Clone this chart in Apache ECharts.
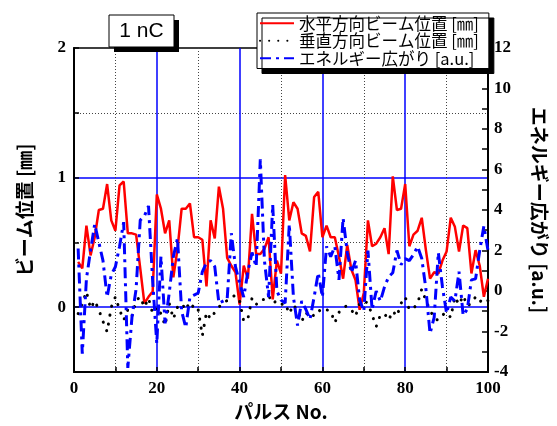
<!DOCTYPE html>
<html>
<head>
<meta charset="utf-8">
<script src="https://cdn.jsdelivr.net/npm/echarts@6/dist/echarts.min.js"></script>
<style>
html, body { margin: 0; padding: 0; background: #fff; }
#main { width: 557px; height: 426px; }
</style>
</head>
<body>
<div id="main"></div>
<script>
var horizPos = [0.35, 0.30, 0.63, 0.40, 0.54, 0.75, 0.76, 0.95, 0.67, 0.59,
                0.94, 0.97, 0.57, 0.57, 0.56, 0.30, 0.03, 0.08, 0.12, 0.87,
                0.76, 0.57, 0.67, 0.23, 0.45, 0.76, 0.76, 0.80, 0.54, 0.54,
                0.52, 0.16, 0.67, 0.53, 0.93, 0.76, 0.38, 0.32, 0.27, 0.02,
                0.32, 0.22, 0.72, 0.41, 0.41, 0.45, 0.54, 0.06, 0.36, 0.26,
                1.02, 0.67, 0.81, 0.76, 0.57, 0.55, 0.43, 0.85, 0.89, 0.54,
                0.63, 0.54, 0.54, 0.39, 0.22, 0.48, 0.29, 0.21, -0.02, 0.11,
                0.67, 0.47, 0.49, 0.54, 0.61, 0.41, 1.01, 0.75, 0.76, 0.95,
                0.47, 0.56, 0.59, 0.69, 0.44, 0.22, 0.27, 0.26, 0.36, 0.43,
                0.69, 0.62, 0.43, 0.63, 0.61, 0.26, 0.44, 0.32, 0.08, 0.22];

var vertPos = [-0.05, 0.03, 0.12, -0.01, 0.05, -0.02, -0.11, -0.19, 0.00, 0.08,
               -0.02, -0.10, -0.02, -0.07, 0.05, 0.08, 0.00, 0.07, -0.05, 0.00,
               -0.05, -0.14, 0.03, -0.09, 0.00, -0.02, 0.04, -0.02, 0.02, -0.02,
               -0.22, -0.04, -0.09, -0.04, 0.00, 0.04, 0.05, 0.08, 0.09, 0.05,
               -0.11, -0.09, 0.07, 0.02, 0.06, 0.06, 0.09, 0.03, 0.05, 0.02,
               0.03, -0.05, 0.02, -0.03, -0.11, -0.04, -0.08, -0.06, -0.02, -0.04,
               -0.02, -0.03, -0.12, -0.04, 0.00, 0.01, -0.02, -0.07, 0.03, 0.05,
               0.03, -0.06, -0.15, -0.06, -0.05, -0.10, -0.03, -0.07, 0.03, 0.08,
               -0.02, -0.01, 0.03, 0.14, 0.05, -0.02, -0.09, -0.10, -0.06, -0.04,
               -0.08, 0.08, 0.02, 0.09, 0.01, 0.03, 0.08, 0.04, 0.07, 0.05];

var energySpread = [2.1, -3.1, 0.6, 2.0, 3.3, 2.4, 1.5, -0.3, 0.8, 1.2,
                    2.2, 3.4, -3.8, -1.3, 0.1, 3.5, 3.7, 4.2, 0.5, -2.6,
                    1.7, -1.6, -0.1, 1.7, 2.6, -1.0, -1.8, -0.3, -0.2, -0.1,
                    0.95, 1.4, 1.5, 1.2, -0.6, -0.5, -0.4, 2.85, 1.2, 0.4,
                    -0.3, 0.95, 1.9, 1.2, 6.5, 1.5, -0.3, 4.25, 0.0, -0.45,
                    -0.6, 3.3, -0.3, -1.7, -0.5, -0.9, -1.4, -0.3, 0.9, -0.3,
                    2.2, 1.7, 2.2, 0.55, 3.6, 1.9, 0.9, 1.5, -0.45, -1.0,
                    2.0, -0.9, 0.0, -0.5, 0.2, 0.7, 0.9, 2.0, 1.3, 1.6,
                    1.5, 1.8, 2.2, 1.6, 0.1, -2.1, -1.3, 1.9, 0.2, -1.1,
                    -0.3, -0.5, 0.95, -1.2, -0.9, 0.55, 0.6, 2.0, 3.2, 2.0];

var seriesNames = ['水平方向ビーム位置 [㎜]', '垂直方向ビーム位置 [㎜]', 'エネルギー広がり [a.u.]'];

function toPairs(arr) {
    return arr.map(function (v, i) { return [i + 1, v]; });
}

var tickFont = { fontFamily: 'Liberation Serif', fontWeight: 'bold', fontSize: 17, color: '#000' };
var nameFont = { fontFamily: 'Noto Sans CJK JP', fontWeight: 'bold', fontSize: 19, color: '#000' };
var DOT = '#444', BLUE = '#0000ff', NONE = 'rgba(255,255,255,0)';

// 補助軸（グリッド線だけ描く）
function gridOnlyAxis(base, colors, type, width) {
    return Object.assign({
        axisLine: { show: false, onZero: false },
        axisTick: { show: false },
        axisLabel: { show: false },
        splitLine: { show: true, lineStyle: { color: colors, type: type, width: width } }
    }, base);
}

var option = {
    animation: false,
    backgroundColor: '#fff',
    grid: {
        left: 74, right: 60, top: 48, bottom: 54,
        show: true, borderColor: '#000', borderWidth: 1.5, backgroundColor: 'transparent'
    },
    legend: {
        data: seriesNames,
        orient: 'vertical',
        left: 257, top: 13,
        padding: [2, 10, 2, 2],
        itemGap: 1,
        itemWidth: 34,
        itemHeight: 10,
        backgroundColor: '#fff',
        borderColor: '#000',
        borderWidth: 1,
        shadowColor: '#000',
        shadowBlur: 0,
        shadowOffsetX: 5,
        shadowOffsetY: 5,
        itemStyle: { opacity: 0 },
        textStyle: { fontFamily: 'Noto Sans CJK JP', fontSize: 16.5, color: '#000' }
    },
    graphic: [
        { type: 'rect', z: 100, shape: { x: 114, y: 20, width: 65, height: 32 }, style: { fill: '#000' } },
        { type: 'rect', z: 101, shape: { x: 109, y: 15, width: 65, height: 32 }, style: { fill: '#fff', stroke: '#000', lineWidth: 1 } },
        { type: 'text', z: 102, x: 141.5, y: 31, style: { text: '1 nC', fontFamily: 'Liberation Sans', fontSize: 21, fill: '#000', align: 'center', verticalAlign: 'middle' } }
    ],
    xAxis: [
        {
            type: 'value', min: 0, max: 100, interval: 10,
            name: 'パルス No.', nameLocation: 'middle', nameGap: 30,
            nameTextStyle: { fontFamily: 'Noto Sans CJK JP', fontWeight: 'bold', fontSize: 19, color: '#000' },
            axisLine: { onZero: false, lineStyle: { color: '#000', width: 2 } },
            axisTick: { inside: true, length: 5, lineStyle: { color: '#000', width: 1.5 } },
            axisLabel: Object.assign({ margin: 8, formatter: function (v) { return v % 20 === 0 ? String(v) : ''; } }, tickFont),
            splitLine: { show: true, lineStyle: { color: [NONE, DOT, NONE, DOT, NONE, DOT, NONE, DOT, NONE, DOT, NONE], type: [1, 2], width: 1 } }
        },
        gridOnlyAxis({ type: 'value', min: 0, max: 100, interval: 20, position: 'bottom' },
            [NONE, BLUE, BLUE, BLUE, BLUE, NONE], 'solid', 1.5)
    ],
    yAxis: [
        {
            type: 'value', min: -0.5, max: 2, interval: 0.5, position: 'left',
            name: 'ビーム位置 [㎜]', nameLocation: 'middle', nameGap: 40,
            nameTextStyle: nameFont,
            axisLine: { show: true, onZero: false, lineStyle: { color: '#000', width: 2 } },
            axisTick: { show: true, inside: true, length: 5, lineStyle: { color: '#000', width: 1.5 } },
            axisLabel: Object.assign({ margin: 8, formatter: function (v) { return Math.abs(v - Math.round(v)) < 1e-6 ? String(Math.round(v)) : ''; } }, tickFont),
            splitLine: { show: true, lineStyle: { color: [NONE, NONE, DOT, NONE, DOT, NONE], type: [1, 2], width: 1 } }
        },
        {
            type: 'value', min: -4, max: 12, interval: 2, position: 'right',
            name: 'エネルギー広がり [a.u.]', nameLocation: 'middle', nameGap: 42, nameRotate: -90,
            nameTextStyle: nameFont,
            axisLine: { show: true, onZero: false, lineStyle: { color: '#000', width: 2 } },
            axisTick: { show: true, inside: true, length: 6, lineStyle: { color: '#000', width: 1.5 } },
            minorTick: { show: true, splitNumber: 2, length: 6, lineStyle: { color: '#000', width: 1.5 } },
            axisLabel: Object.assign({ margin: 6 }, tickFont),
            splitLine: { show: false }
        },
        gridOnlyAxis({ type: 'value', min: -0.5, max: 2, interval: 0.5, position: 'left' },
            [NONE, BLUE, NONE, BLUE, NONE, NONE], 'solid', 1.5)
    ],
    series: [
        {
            name: seriesNames[0], type: 'line', z: 3,
            data: toPairs(horizPos),
            symbol: 'none',
            itemStyle: { color: '#ff0000' },
            lineStyle: { color: '#ff0000', width: 2.5 }
        },
        {
            name: seriesNames[1], type: 'line', z: 4,
            data: toPairs(vertPos),
            symbol: 'none',
            itemStyle: { color: '#000' },
            lineStyle: { color: '#000', width: 3, type: [0.1, 9], cap: 'round' }
        },
        {
            name: seriesNames[2], type: 'line', z: 5, yAxisIndex: 1,
            data: toPairs(energySpread),
            symbol: 'none',
            itemStyle: { color: '#0000ff' },
            lineStyle: { color: '#0000ff', width: 3, type: [11, 5, 3, 5] }
        }
    ]
};

var chart = echarts.init(document.getElementById('main'), null, { renderer: 'canvas' });
chart.setOption(option);
</script>
</body>
</html>
